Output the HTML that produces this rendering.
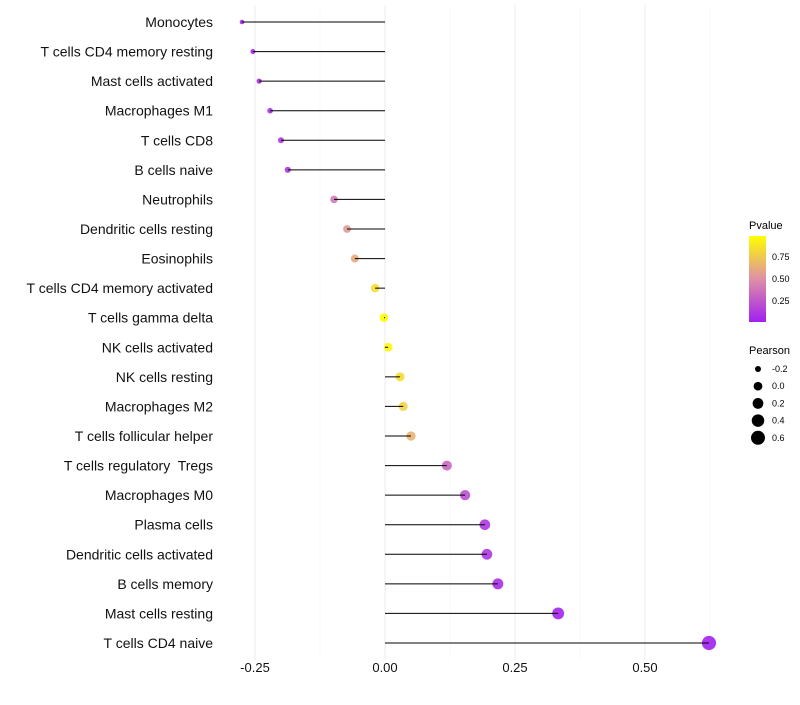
<!DOCTYPE html>
<html><head><meta charset="utf-8"><style>
body{margin:0;background:#fff;font-family:"Liberation Sans",sans-serif}
text{white-space:pre}
</style></head><body>
<svg id="chart" width="800" height="700" xmlns="http://www.w3.org/2000/svg">
<defs><linearGradient id="pg" x1="0" y1="1" x2="0" y2="0">
<stop offset="0" stop-color="#a020f0"/><stop offset="0.5" stop-color="#df8fa6"/><stop offset="1" stop-color="#ffff00"/></linearGradient></defs>
<g id="grid"></g>
<g id="pts"></g>
<g id="marks"></g>
<g id="ylab"></g>
<g id="xlab"></g>
<g>
<text x="749" y="229" font-size="11">Pvalue</text>
<rect x="749" y="236" width="17" height="86" fill="url(#pg)"/>
<text x="772" y="260" font-size="9">0.75</text>
<text x="772" y="282" font-size="9">0.50</text>
<text x="772" y="304" font-size="9">0.25</text>
</g>
<g id="sizeleg">
<text x="749" y="354" font-size="11">Pearson</text>
</g>
</svg>
<script>
const categories=["Monocytes","T cells CD4 memory resting","Mast cells activated","Macrophages M1","T cells CD8","B cells naive","Neutrophils","Dendritic cells resting","Eosinophils","T cells CD4 memory activated","T cells gamma delta","NK cells activated","NK cells resting","Macrophages M2","T cells follicular helper","T cells regulatory  Tregs","Macrophages M0","Plasma cells","Dendritic cells activated","B cells memory","Mast cells resting","T cells CD4 naive"];
const pearson=[-0.275,-0.254,-0.242,-0.221,-0.2,-0.187,-0.098,-0.073,-0.058,-0.019,-0.002,0.006,0.029,0.035,0.05,0.119,0.154,0.192,0.196,0.217,0.333,0.623];
const pvalues=[0.03,0.05,0.06,0.08,0.1,0.12,0.4,0.55,0.62,0.85,0.98,0.96,0.85,0.8,0.66,0.32,0.22,0.1,0.1,0.06,0.02,0.01];
const xTicks=[-0.25,0,0.25,0.5];
const xTickLabels=["-0.25","0.00","0.25","0.50"];
const sizeLegend=[-0.2,0,0.2,0.4,0.6];
const sizeLegendLabels=["-0.2","0.0","0.2","0.4","0.6"];
const NS="http://www.w3.org/2000/svg";
const X=v=>385+v*520;
const Y=i=>22+i*(643-22)/(categories.length-1);
const R=v=>Math.sqrt(Math.max(1,19+50*v));
function col(p){const a=[160,32,240],b=[223,143,166],c=[255,255,0];let s,e,t;
if(p<0.5){s=a;e=b;t=p/0.5}else{s=b;e=c;t=(p-0.5)/0.5}
const r=s.map((v,k)=>Math.round(v+(e[k]-v)*t));return `rgb(${r[0]},${r[1]},${r[2]})`}
function el(tag,at,parent){const e=document.createElementNS(NS,tag);for(const k in at)e.setAttribute(k,at[k]);parent.appendChild(e);return e}
const grid=document.getElementById('grid'),marks=document.getElementById('marks'),pts=document.getElementById('pts'),ylab=document.getElementById('ylab'),xlab=document.getElementById('xlab'),sl=document.getElementById('sizeleg');
for(let v=-0.375;v<=0.75;v+=0.125){const x=X(v);if(x<225||x>740)continue;
const isMajor=Math.abs(v*4-Math.round(v*4))<1e-6;
const l=el('line',{x1:x,x2:x,y1:5,y2:660,stroke:isMajor?'#ebebeb':'#f3f3f3','stroke-width':isMajor?1:0.6},grid);

}
xTicks.forEach((v,i)=>{const t=el('text',{x:X(v),y:672,'font-size':13,'text-anchor':'middle',fill:'#111'},xlab);t.textContent=xTickLabels[i];

});
categories.forEach((c,i)=>{const y=Y(i);
const t=el('text',{x:213,y:y+5,'font-size':14,'text-anchor':'end',fill:'#111'},ylab);t.textContent=c;


const p=el('circle',{cx:X(pearson[i]),cy:y,r:R(pearson[i]),fill:col(pvalues[i]),'fill-opacity':0.9},pts);


const l=el('line',{x1:X(0),x2:X(pearson[i]),y1:y,y2:y,stroke:'#000','stroke-width':1},marks);

});
sizeLegend.forEach((v,i)=>{const y=369+i*17.2;
const c=el('circle',{cx:758,cy:y,r:R(v),fill:'#000'},sl);


const t=el('text',{x:772,y:y+3,'font-size':9},sl);t.textContent=sizeLegendLabels[i];

});
</script>
</body></html>
